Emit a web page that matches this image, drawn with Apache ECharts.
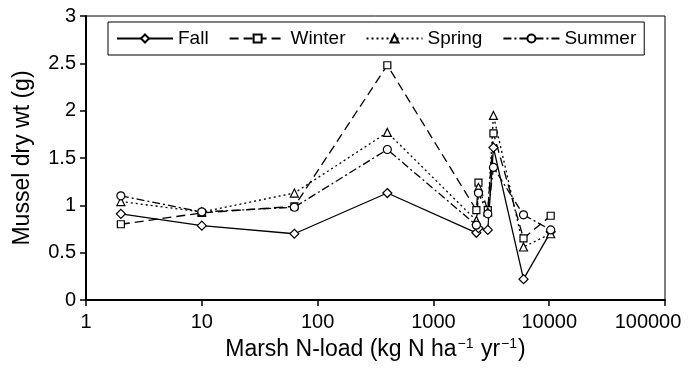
<!DOCTYPE html>
<html>
<head>
<meta charset="utf-8">
<script src="https://cdn.jsdelivr.net/npm/echarts@6/dist/echarts.min.js"></script>
<style>html,body{margin:0;padding:0;background:#fff}#c{width:689px;height:370px}</style>
</head>
<body>
<div id="c"></div>
<script>
const xLoad = [2, 10, 63, 400, 2350, 2450, 2950, 3300, 6000, 10300];
const fall   = [0.91, 0.785, 0.70, 1.13, 0.71, 0.76, 0.74, 1.61, 0.22, 0.72];
const winter = [0.80, 0.92, 0.99, 2.48, 0.95, 1.24, 0.95, 1.76, 0.65, 0.89];
const spring = [1.04, 0.93, 1.13, 1.77, 0.84, 1.19, 0.93, 1.95, 0.56, 0.70];
const summer = [1.10, 0.93, 0.98, 1.59, 0.79, 1.13, 0.91, 1.40, 0.90, 0.74];
const seriesNames = ['Fall', 'Winter', 'Spring', 'Summer'];
const yTicks = [0, 0.5, 1, 1.5, 2, 2.5, 3];

const FONT = '"Liberation Sans", Arial, sans-serif';
function pairs(ys){ return xLoad.map((x,i)=>[x, ys[i]]); }
const styles = [
  {symbol:'diamond', size:9, type:'solid'},
  {symbol:'rect', size:7, type:[9,5]},
  {symbol:'triangle', size:8, type:[2,3]},
  {symbol:'circle', size:8, type:[8,3,2,3]}
];
const vals = [fall, winter, spring, summer];
const chart = echarts.init(document.getElementById('c'), null, {renderer:'canvas'});
chart.setOption({
  animation:false,
  backgroundColor:'#fff',
  textStyle:{fontFamily:FONT, color:'#000'},
  grid:{left:86, right:24, top:16, bottom:70, show:true, borderColor:'#000', borderWidth:1},
  legend:{
    left:108, top:22, padding:[7,8], itemGap:20, itemWidth:56, itemHeight:10,
    borderColor:'#000', borderWidth:1, backgroundColor:'#fff',
    textStyle:{fontFamily:FONT, fontSize:19, color:'#000'},
    data:seriesNames
  },
  xAxis:{
    type:'log', logBase:10, min:1, max:100000,
    name:'Marsh N-load (kg N ha{s|−1} yr{s|−1})',
    nameLocation:'middle', nameGap:37,
    nameTextStyle:{fontFamily:FONT, fontSize:23, color:'#000',
      rich:{s:{fontSize:14, fontFamily:FONT, color:'#000', verticalAlign:'top', padding:[0,1,12,1]}}},
    axisLine:{lineStyle:{color:'#000', width:2}},
    axisTick:{inside:false, length:6, lineStyle:{color:'#000', width:1.5}},
    axisLabel:{fontFamily:FONT, fontSize:20, color:'#000', margin:12, showMaxLabel:true,
      formatter:function(v){ const r=Math.round(v); return r===100000 ? '{r|100000}' : String(r); },
      rich:{r:{fontFamily:FONT, fontSize:20, color:'#000', padding:[0,34,0,0]}}},
    splitLine:{show:false}, minorTick:{show:false}
  },
  yAxis:{
    type:'value', min:0, max:3, interval:0.5,
    name:'Mussel dry wt (g)', nameLocation:'middle', nameGap:52,
    nameTextStyle:{fontFamily:FONT, fontSize:23, color:'#000'},
    axisLine:{show:true, lineStyle:{color:'#000', width:2}},
    axisTick:{show:true, inside:false, length:6, lineStyle:{color:'#000', width:1.5}},
    axisLabel:{fontFamily:FONT, fontSize:20, color:'#000', margin:10,
      formatter:function(v){ return yTicks.indexOf(v)>=0 ? String(v) : ''; }},
    splitLine:{show:false}
  },
  series: seriesNames.map((n,i)=>({
    name:n, type:'line', data:pairs(vals[i]),
    symbol:styles[i].symbol, symbolSize:styles[i].size, showAllSymbol:true,
    itemStyle:{color:'#fff', borderColor:'#000', borderWidth:1.2},
    lineStyle:{color:'#000', width:1.3, type:styles[i].type},
    emphasis:{disabled:true}
  }))
});
</script>
</body>
</html>
